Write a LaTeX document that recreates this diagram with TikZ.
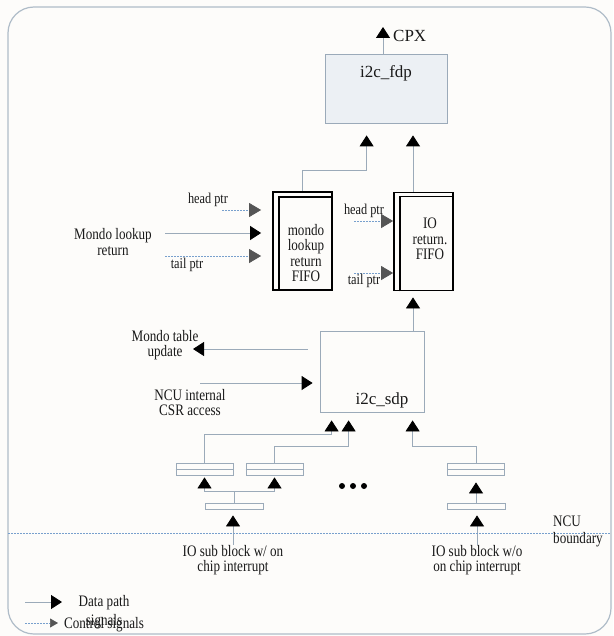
\documentclass[tikz,border=0pt]{standalone}
\usepackage{fontspec}
\setmainfont{Liberation Serif}[FakeStretch=0.82]
\newfontfamily\widefont{Liberation Serif}
\usetikzlibrary{arrows.meta,calc,positioning}

\definecolor{wirecol}{RGB}{155,170,185}
\definecolor{ctlcol}{RGB}{120,160,205}
\definecolor{tipgray}{RGB}{85,85,85}
\definecolor{fdpfill}{RGB}{236,240,244}
\definecolor{framecol}{RGB}{175,188,200}
\definecolor{bgcol}{RGB}{253,252,250}

\begin{document}
\begin{tikzpicture}[x=1pt,y=-1pt,
		wire/.style={draw=wirecol,line width=0.8pt},
		data/.style={wire,-{Triangle[length=11pt,width=14pt,color=black]}},
		ctl/.style={draw=ctlcol,line width=0.7pt,dash pattern=on 1.5pt off 1.5pt,-{Triangle[length=12pt,width=14pt,color=tipgray]}},
		fifo/.style={draw=black,line width=1.8pt,minimum width=59pt,minimum height=98pt,inner sep=0pt},
		reg/.style={wire,minimum width=57pt,minimum height=12pt,inner sep=0pt},
		bar/.style={wire,minimum width=58pt,minimum height=6pt,inner sep=0pt},
		lbl/.style={font=\fontsize{16}{15.5}\selectfont,align=center,inner sep=0pt,text=black!90},
		ptr/.style={font=\fontsize{15}{15}\selectfont,inner sep=0pt,text=black!90},
		blkname/.style={font=\widefont\fontsize{17}{17}\selectfont,inner sep=0pt,text=black!90}]
		\useasboundingbox (0,0) rectangle (613,636);
		\fill[bgcol] (0,0) rectangle (613,636);
		\draw[framecol,line width=1.2pt,rounded corners=26pt] (8,7) rectangle (611,634);

		% output side
		\node[wire,fill=fdpfill,minimum width=122pt,minimum height=69pt,inner sep=0pt] (fdp) at (386,88.5) {};
		\node[blkname] (fdplbl) at (386,73) {i2c\_fdp};
		\coordinate (cpx) at (383,27);
		\draw[data] (fdp.north -| cpx) -- (cpx);
		\node[blkname,anchor=west] (cpxlbl) at (393,36) {CPX};

		% fifos
		\node[fifo] (mfifo) at (302.5,241) {};
		\draw[line width=1.8pt] ($(mfifo.south west)+(7,0)$) |- ($(mfifo.north east)+(0,6)$);
		\node[lbl] (mtxt) at (306,253) {mondo\\lookup\\return\\FIFO};
		\node[fifo] (iofifo) at (423.5,241.5) {};
		\draw[line width=1.8pt] ($(iofifo.south west)+(7,0)$) |- ($(iofifo.north east)+(0,5)$);
		\node[lbl] (iotxt) at (430,239) {IO\\return.\\FIFO};

		\coordinate (iox) at (413,300);
		\draw[data,shorten >=12pt] (mfifo.north) |- ($(fdp.south west)+(42,47)$) -- ($(fdp.south west)+(42,0)$);
		\draw[data,shorten >=12pt] (iofifo.north -| iox) -- (fdp.south -| iox);

		\coordinate (mhead) at (222,210);
		\coordinate (mdata) at (165,233);
		\coordinate (mtail) at (165,256);
		\draw[ctl,shorten >=11pt] (mhead) -- (mhead -| mfifo.west);
		\draw[data,shorten >=11pt] (mdata) -- (mdata -| mfifo.west);
		\draw[ctl,shorten >=11pt] (mtail) -- (mtail -| mfifo.west);
		\node[ptr] (mheadlbl) at (208,200) {head ptr};
		\node[lbl] (mdatalbl) at (113,242) {Mondo lookup\\return};
		\node[ptr] (mtaillbl) at (187,265) {tail ptr};

		\coordinate (iohead) at (354,221);
		\coordinate (iotail) at (354,273);
		\draw[ctl] (iohead) -- (iohead -| iofifo.west);
		\draw[ctl] (iotail) -- (iotail -| iofifo.west);
		\node[ptr] (ioheadlbl) at (364,211) {head ptr};
		\node[ptr] (iotaillbl) at (364,281) {tail ptr};

		% i2c_sdp
		\node[wire,minimum width=104pt,minimum height=81pt,inner sep=0pt] (sdp) at (372,371.5) {};
		\node[blkname] (sdplbl) at (382,400) {i2c\_sdp};
		\draw[data,shorten >=6pt] (sdp.north -| iox) -- (iofifo.south -| iox);

		\coordinate (mtu) at (193,349);
		\draw[data,shorten <=12pt] (sdp.west |- mtu) -- (mtu);
		\node[lbl] (mtulbl) at (165,345) {Mondo table\\update};
		\coordinate (csr) at (200,383);
		\draw[data,shorten >=7pt] (csr) -- (csr -| sdp.west);
		\node[lbl] (csrlbl) at (190,402.5) {NCU internal\\CSR access};

		% io sub blocks
		\node[reg] (rega) at (204.5,469) {};
		\draw[wire] (rega.west) -- (rega.east);
		\node[reg] (regb) at (274.5,469) {};
		\draw[wire] (regb.west) -- (regb.east);
		\node[reg] (regd) at (476,469) {};
		\draw[wire] (regd.west) -- (regd.east);
		\node[bar] (regc) at (234,506) {};
		\node[bar] (rege) at (476,506) {};

		\draw[data,shorten >=8pt] (rega.north) |- ($(sdp.south west)+(12,22)$) -- ($(sdp.south west)+(12,0)$);
		\draw[data,shorten >=8pt] (regb.north) |- ($(sdp.south west)+(29,34)$) -- ($(sdp.south west)+(29,0)$);
		\draw[data,shorten >=8pt] (regd.north) |- ($(sdp.south west)+(93,34)$) -- ($(sdp.south west)+(93,0)$);

		\draw[wire] (regc.north) -- ++(0,-11) coordinate (split);
		\draw[data,shorten >=2pt] (split) -| (rega.south);
		\draw[data,shorten >=2pt] (split) -| (regb.south);
		\draw[data,shorten >=7pt] (rege.north) -- (regd.south);

		\foreach \dx in {-11,0,11}
			\fill (353+\dx,486) circle (3pt);

		\node[lbl] (io1) at (233,560) {IO sub block w/ on\\chip interrupt};
		\node[lbl] (io2) at (477,560) {IO sub block w/o\\on chip interrupt};
		\draw[data,shorten >=6pt] (io1.north) -- (io1.north |- regc.south);
		\draw[data,shorten >=6pt] (io2.north) -- (io2.north |- rege.south);

		% boundary
		\coordinate (nl) at (8,533);
		\coordinate (nr) at (611,533);
		\draw[ctlcol,line width=0.7pt,dash pattern=on 1.5pt off 1.5pt] (nl) -- (nr);
		\node[lbl,anchor=west,align=left,font=\fontsize{16}{17}\selectfont] (ncu) at (553,531.5) {NCU\\boundary};

		% legend
		\coordinate (ld0) at (25,602);
		\coordinate (ld1) at (62,602);
		\draw[data] (ld0) -- (ld1);
		\node[lbl] (ldlbl) at (104,612) {Data path\\[3.5pt]signals};
		\coordinate (lc0) at (25,623);
		\coordinate (lc1) at (58,623);
		\draw[ctl,-{Triangle[length=8pt,width=9pt,color=tipgray]}] (lc0) -- (lc1);
		\node[lbl] (lclbl) at (104,625) {Control signals};
	\end{tikzpicture}
\end{document}
